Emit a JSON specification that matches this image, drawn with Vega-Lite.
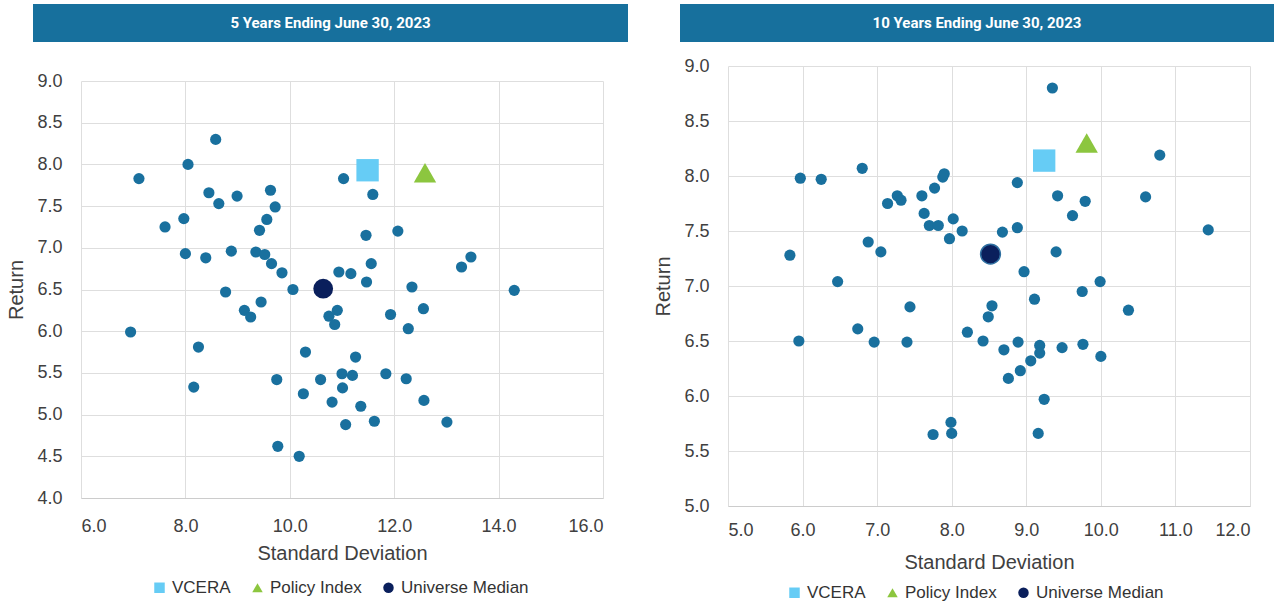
{
  "$schema": "https://vega.github.io/schema/vega-lite/v6.json",
  "padding": {"left": 6, "top": 4, "right": 0, "bottom": 0},
  "background": "white",
  "config": {
    "font": "Liberation Sans",
    "view": {"stroke": null},
    "axis": {"gridColor": "#dedede", "gridWidth": 1, "ticks": false, "tickSize": 0, "labelFont": "Liberation Sans", "labelFontSize": 18, "labelColor": "#404040", "titleFont": "Liberation Sans", "titleFontSize": 20, "titleFontWeight": "normal", "titleColor": "#404040", "domain": false},
    "legend": {"labelFont": "Liberation Sans", "labelFontSize": 17, "labelColor": "#333333", "symbolSize": 110, "columnPadding": 18, "labelOffset": 4, "symbolStrokeWidth": 0}
  },
  "spacing": 25,
  "resolve": {"scale": {"color": "independent", "shape": "independent"}},
  "hconcat": [
    {
      "spacing": 30,
      "vconcat": [
        {
          "width": 547, "height": 38,
          "view": {"fill": "#17709d", "stroke": null},
          "data": {"values": [{"label": "5 Years Ending June 30, 2023", "k": "a"}]},
          "mark": {"type": "text", "color": "#ffffff", "font": "Roboto", "fontWeight": "bold", "fontSize": 15, "dx": -24},
          "encoding": {
            "text": {"field": "label"},
            "x": {"field": "k", "type": "nominal", "axis": null},
            "y": {"field": "k", "type": "nominal", "axis": {"labels": false, "ticks": true, "tickSize": 48, "tickWidth": 38, "tickColor": "#17709d", "tickOpacity": 1, "translate": 0, "domain": false, "grid": false, "title": null}}
          }
        },
        {
          "width": 522, "height": 417,
          "layer": [
            {
              "data": {"values": [
                {"sd":7.11,"ret":7.83},{"sd":8.05,"ret":8.00},{"sd":8.58,"ret":8.30},{"sd":8.45,"ret":7.66},{"sd":8.64,"ret":7.53},{"sd":8.99,"ret":7.62},{"sd":9.63,"ret":7.69},{"sd":9.72,"ret":7.49},{"sd":9.56,"ret":7.34},{"sd":9.42,"ret":7.21},{"sd":7.97,"ret":7.35},{"sd":7.61,"ret":7.25},{"sd":8.00,"ret":6.93},{"sd":8.39,"ret":6.88},{"sd":8.88,"ret":6.96},{"sd":9.35,"ret":6.95},{"sd":9.52,"ret":6.92},{"sd":9.65,"ret":6.81},{"sd":9.85,"ret":6.70},{"sd":10.06,"ret":6.50},{"sd":8.77,"ret":6.47},{"sd":9.45,"ret":6.35},{"sd":9.13,"ret":6.25},{"sd":9.25,"ret":6.17},{"sd":6.95,"ret":5.99},{"sd":8.25,"ret":5.81},{"sd":8.16,"ret":5.33},{"sd":9.75,"ret":5.42},{"sd":10.30,"ret":5.75},{"sd":10.59,"ret":5.42},{"sd":10.26,"ret":5.25},{"sd":9.77,"ret":4.62},{"sd":10.18,"ret":4.50},{"sd":11.03,"ret":7.83},{"sd":11.59,"ret":7.64},{"sd":11.46,"ret":7.15},{"sd":12.07,"ret":7.20},{"sd":13.47,"ret":6.89},{"sd":13.29,"ret":6.77},{"sd":11.56,"ret":6.81},{"sd":10.94,"ret":6.71},{"sd":11.17,"ret":6.69},{"sd":11.47,"ret":6.59},{"sd":12.34,"ret":6.53},{"sd":14.30,"ret":6.49},{"sd":10.91,"ret":6.25},{"sd":10.75,"ret":6.18},{"sd":10.86,"ret":6.08},{"sd":11.93,"ret":6.20},{"sd":12.56,"ret":6.27},{"sd":12.27,"ret":6.03},{"sd":11.26,"ret":5.69},{"sd":11.00,"ret":5.49},{"sd":11.20,"ret":5.47},{"sd":11.84,"ret":5.49},{"sd":12.23,"ret":5.43},{"sd":11.01,"ret":5.32},{"sd":10.81,"ret":5.15},{"sd":11.36,"ret":5.10},{"sd":12.57,"ret":5.17},{"sd":11.07,"ret":4.88},{"sd":11.62,"ret":4.92},{"sd":13.01,"ret":4.91}
              ]},
              "mark": {"type": "circle", "size": 125, "color": "#19709e", "opacity": 1},
              "encoding": {
                "x": {"field": "sd", "type": "quantitative", "scale": {"domain": [6, 16], "nice": false, "zero": false}, "axis": {"values": [6, 8, 10, 12, 14, 16], "format": ".1f", "title": "Standard Deviation", "labelPadding": 19, "titlePadding": 8, "domain": true, "domainColor": "#cccccc"}},
                "y": {"field": "ret", "type": "quantitative", "scale": {"domain": [4, 9], "nice": false, "zero": false}, "axis": {"values": [4, 4.5, 5, 5.5, 6, 6.5, 7, 7.5, 8, 8.5, 9], "format": ".1f", "title": "Return", "labelPadding": 19, "titlePadding": 10}}
              }
            },
            {
              "data": {"values": [
                {"name": "VCERA", "sd": 11.49, "ret": 7.93},
                {"name": "Policy Index", "sd": 12.59, "ret": 7.90}
              ]},
              "mark": {"type": "point", "filled": true, "opacity": 1, "size": 500},
              "encoding": {
                "x": {"field": "sd", "type": "quantitative"},
                "y": {"field": "ret", "type": "quantitative"},
                "color": {"field": "name", "type": "nominal", "scale": {"domain": ["VCERA", "Policy Index", "Universe Median"], "range": ["#66ccf5", "#8cc63f", "#0a1f5c"]}, "legend": {"orient": "none", "legendX": 70, "legendY": 575, "direction": "horizontal", "title": null}},
                "shape": {"field": "name", "type": "nominal", "scale": {"domain": ["VCERA", "Policy Index", "Universe Median"], "range": ["square", "triangle-up", "circle"]}, "legend": {"orient": "none", "legendX": 70, "legendY": 575, "direction": "horizontal", "title": null}}
              }
            },
            {
              "data": {"values": [
                {"name": "Universe Median", "sd": 10.64, "ret": 6.51}
              ]},
              "mark": {"type": "point", "filled": true, "opacity": 1, "size": 390},
              "encoding": {
                "x": {"field": "sd", "type": "quantitative"},
                "y": {"field": "ret", "type": "quantitative"},
                "color": {"field": "name", "type": "nominal", "scale": {"domain": ["VCERA", "Policy Index", "Universe Median"], "range": ["#66ccf5", "#8cc63f", "#0a1f5c"]}, "legend": {"orient": "none", "legendX": 70, "legendY": 575, "direction": "horizontal", "title": null}},
                "shape": {"field": "name", "type": "nominal", "scale": {"domain": ["VCERA", "Policy Index", "Universe Median"], "range": ["square", "triangle-up", "circle"]}, "legend": {"orient": "none", "legendX": 70, "legendY": 575, "direction": "horizontal", "title": null}}
              }
            }
          ]
        }
      ]
    },
    {
      "spacing": 15,
      "vconcat": [
        {
          "width": 546, "height": 38,
          "view": {"fill": "#17709d", "stroke": null},
          "data": {"values": [{"label": "10 Years Ending June 30, 2023", "k": "a"}]},
          "mark": {"type": "text", "color": "#ffffff", "font": "Roboto", "fontWeight": "bold", "fontSize": 15, "dx": -24},
          "encoding": {
            "text": {"field": "label"},
            "x": {"field": "k", "type": "nominal", "axis": null},
            "y": {"field": "k", "type": "nominal", "axis": {"labels": false, "ticks": true, "tickSize": 48, "tickWidth": 38, "tickColor": "#17709d", "tickOpacity": 1, "translate": 0, "domain": false, "grid": false, "title": null}}
          }
        },
        {
          "width": 522, "height": 440,
          "layer": [
            {
              "data": {"values": [
                {"sd":5.97,"ret":7.98},{"sd":6.25,"ret":7.97},{"sd":6.80,"ret":8.07},{"sd":5.83,"ret":7.28},{"sd":6.47,"ret":7.04},{"sd":6.88,"ret":7.40},{"sd":7.05,"ret":7.31},{"sd":7.14,"ret":7.75},{"sd":7.27,"ret":7.82},{"sd":7.32,"ret":7.78},{"sd":7.60,"ret":7.82},{"sd":7.63,"ret":7.66},{"sd":7.70,"ret":7.55},{"sd":7.82,"ret":7.55},{"sd":7.77,"ret":7.89},{"sd":7.88,"ret":7.99},{"sd":7.90,"ret":8.02},{"sd":8.02,"ret":7.61},{"sd":7.97,"ret":7.43},{"sd":8.14,"ret":7.50},{"sd":7.44,"ret":6.81},{"sd":9.35,"ret":8.80},{"sd":10.79,"ret":8.19},{"sd":8.88,"ret":7.94},{"sd":9.42,"ret":7.82},{"sd":9.79,"ret":7.77},{"sd":10.60,"ret":7.81},{"sd":9.62,"ret":7.64},{"sd":8.68,"ret":7.49},{"sd":8.88,"ret":7.53},{"sd":11.44,"ret":7.51},{"sd":9.40,"ret":7.31},{"sd":8.97,"ret":7.13},{"sd":9.99,"ret":7.04},{"sd":9.75,"ret":6.95},{"sd":9.11,"ret":6.88},{"sd":10.37,"ret":6.78},{"sd":8.54,"ret":6.82},{"sd":8.49,"ret":6.72},{"sd":8.21,"ret":6.58},{"sd":8.42,"ret":6.50},{"sd":8.70,"ret":6.42},{"sd":8.89,"ret":6.49},{"sd":9.18,"ret":6.46},{"sd":9.18,"ret":6.39},{"sd":9.06,"ret":6.32},{"sd":9.48,"ret":6.44},{"sd":9.76,"ret":6.47},{"sd":10.00,"ret":6.36},{"sd":8.92,"ret":6.23},{"sd":8.76,"ret":6.16},{"sd":9.24,"ret":5.97},{"sd":9.16,"ret":5.66},{"sd":5.95,"ret":6.50},{"sd":6.74,"ret":6.61},{"sd":6.96,"ret":6.49},{"sd":7.40,"ret":6.49},{"sd":7.75,"ret":5.65},{"sd":7.99,"ret":5.76},{"sd":8.00,"ret":5.66}
              ]},
              "mark": {"type": "circle", "size": 125, "color": "#19709e", "opacity": 1},
              "encoding": {
                "x": {"field": "sd", "type": "quantitative", "scale": {"domain": [5, 12], "nice": false, "zero": false}, "axis": {"values": [5, 6, 7, 8, 9, 10, 11, 12], "format": ".1f", "title": "Standard Deviation", "labelPadding": 15, "titlePadding": 13, "domain": true, "domainColor": "#cccccc"}},
                "y": {"field": "ret", "type": "quantitative", "scale": {"domain": [5, 9], "nice": false, "zero": false}, "axis": {"values": [5, 5.5, 6, 6.5, 7, 7.5, 8, 8.5, 9], "format": ".1f", "title": "Return", "labelPadding": 19, "titlePadding": 10}}
              }
            },
            {
              "data": {"values": [
                {"name": "VCERA", "sd": 9.24, "ret": 8.14},
                {"name": "Policy Index", "sd": 9.81, "ret": 8.30}
              ]},
              "mark": {"type": "point", "filled": true, "opacity": 1, "size": 500},
              "encoding": {
                "x": {"field": "sd", "type": "quantitative"},
                "y": {"field": "ret", "type": "quantitative"},
                "color": {"field": "name", "type": "nominal", "scale": {"domain": ["VCERA", "Policy Index", "Universe Median"], "range": ["#66ccf5", "#8cc63f", "#0a1f5c"]}, "legend": {"orient": "none", "legendX": 58, "legendY": 580, "direction": "horizontal", "title": null}},
                "shape": {"field": "name", "type": "nominal", "scale": {"domain": ["VCERA", "Policy Index", "Universe Median"], "range": ["square", "triangle-up", "circle"]}, "legend": {"orient": "none", "legendX": 58, "legendY": 580, "direction": "horizontal", "title": null}}
              }
            },
            {
              "data": {"values": [
                {"name": "Universe Median", "sd": 8.52, "ret": 7.29}
              ]},
              "mark": {"type": "point", "filled": true, "opacity": 1, "size": 390, "stroke": "#2f6fa0", "strokeWidth": 1.5},
              "encoding": {
                "x": {"field": "sd", "type": "quantitative"},
                "y": {"field": "ret", "type": "quantitative"},
                "color": {"field": "name", "type": "nominal", "scale": {"domain": ["VCERA", "Policy Index", "Universe Median"], "range": ["#66ccf5", "#8cc63f", "#0a1f5c"]}, "legend": {"orient": "none", "legendX": 58, "legendY": 580, "direction": "horizontal", "title": null}},
                "shape": {"field": "name", "type": "nominal", "scale": {"domain": ["VCERA", "Policy Index", "Universe Median"], "range": ["square", "triangle-up", "circle"]}, "legend": {"orient": "none", "legendX": 58, "legendY": 580, "direction": "horizontal", "title": null}}
              }
            }
          ]
        }
      ]
    }
  ]
}
